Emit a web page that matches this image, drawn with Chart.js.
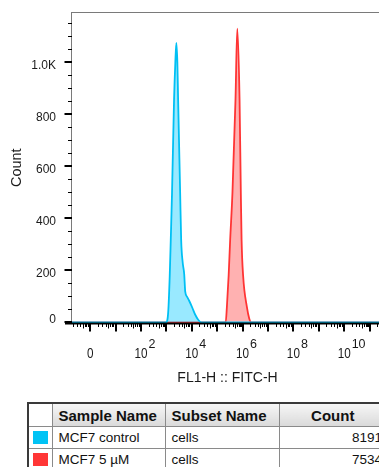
<!DOCTYPE html>
<html>
<head>
<meta charset="utf-8">
<script src="https://cdn.jsdelivr.net/npm/chart.js@4/dist/chart.umd.min.js"></script>
<style>
  html, body { margin: 0; padding: 0; background: #fff; }
  body { width: 379px; height: 467px; overflow: hidden; position: relative; font-family: "Liberation Sans", Arial, sans-serif; }
  #plotBox { position: absolute; left: 0; top: 0; width: 400px; height: 396px; }
  #stats { position: absolute; left: 27px; top: 402px; width: 359px; table-layout: fixed; border-collapse: collapse; border: 2px solid #3a3a3a; color: #111; }
  #stats th, #stats td { border: 1px solid #8a8a8a; padding: 0 6px; white-space: nowrap; overflow: hidden; line-height: 17px; }
  #stats th { height: 22px; font-size: 15px; font-weight: bold; text-align: left; background: linear-gradient(#f6f6f6, #dadada); }
  #stats th.blank { background: #fff; }
  #stats th.num { text-align: center; }
  #stats td { height: 21px; font-size: 13.5px; }
  #stats td.num { text-align: right; padding-right: 4px; }
  #stats td.sw { padding: 0 4px; }
  .swatch { display: block; width: 15px; height: 13px; }
</style>
</head>
<body>
<div id="plotBox"><canvas id="histo"></canvas></div>
<table id="stats">
  <colgroup>
    <col style="width:24px">
    <col style="width:113px">
    <col style="width:114px">
    <col style="width:108px">
  </colgroup>
  <thead>
    <tr>
      <th class="blank"></th>
      <th>Sample Name</th>
      <th>Subset Name</th>
      <th class="num">Count</th>
    </tr>
  </thead>
  <tbody id="statsBody"></tbody>
</table>

<script>
// x values are decades (log10 of FL1-H), y values are cell counts
var controlX = [-0.8, 2.99, 3.07, 3.13, 3.17, 3.22, 3.30, 3.35, 3.39, 3.43, 3.46, 3.54, 3.58, 3.64, 3.70, 3.74, 3.82, 3.90, 4.02, 4.13, 4.25, 4.37, 11.6];
var controlY = [0, 0, 40, 180, 317, 498, 857, 1000, 1075, 1000, 857, 498, 317, 230, 185, 118, 97, 82, 56, 30, 10, 0, 0];

var treatedX = [-0.8, 5.335, 5.38, 5.45, 5.51, 5.60, 5.72, 5.79, 5.88, 5.93, 5.96, 6.02, 6.17, 6.26, 6.34, 11.6];
var treatedY = [0, 0, 58, 180, 317, 498, 857, 1130, 857, 498, 317, 180, 58, 15, 0, 0];

var xTickExponents = [0, 2, 4, 6, 8, 10];
var yTickValues = [0, 200, 400, 600, 800, 1000];
var yTickLabels = ['0', '200', '400', '600', '800', '1.0K'];

var sampleNames = ['MCF7 control', 'MCF7 5 \u00b5M'];
var subsetNames = ['cells', 'cells'];
var eventCounts = [8191, 7534];
var sampleColors = ['#00c3f5', '#ff3636'];

function toPoints(xs, ys) {
    var pts = [];
    for (var i = 0; i < xs.length; i++) {
        pts.push({x: xs[i], y: ys[i]});
    }
    return pts;
}

var rows = '';
for (var i = 0; i < sampleNames.length; i++) {
    rows += '<tr><td class="sw"><span class="swatch" style="background:' + sampleColors[i] + '"></span></td>' +
        '<td>' + sampleNames[i] + '</td><td>' + subsetNames[i] + '</td><td class="num">' + eventCounts[i] + '</td></tr>';
}
document.getElementById('statsBody').innerHTML = rows;

var flowAxes = {
    id: 'flowAxes',
    afterDatasetsDraw: function(chart) {
        var ctx = chart.ctx;
        var area = chart.chartArea;
        var xs = chart.scales.x;
        var ys = chart.scales.y;
        ctx.save();

        // frame top + left
        ctx.strokeStyle = '#7a7a7a';
        ctx.lineWidth = 1;
        ctx.beginPath();
        ctx.moveTo(area.left, area.top + 0.5);
        ctx.lineTo(area.right, area.top + 0.5);
        ctx.moveTo(area.left - 0.5, area.top);
        ctx.lineTo(area.left - 0.5, area.bottom);
        ctx.stroke();

        // y ticks
        ctx.strokeStyle = '#000';
        for (var v = 0; v <= 1150; v += 50) {
            var py = Math.round(ys.getPixelForValue(v));
            var major = v % 200 == 0;
            ctx.lineWidth = major ? 2 : 1;
            ctx.beginPath();
            ctx.moveTo(area.left - (major ? 7.5 : 4), py + (major ? 0 : 0.5));
            ctx.lineTo(area.left, py + (major ? 0 : 0.5));
            ctx.stroke();
        }

        // x axis line
        ctx.lineWidth = 1.8;
        ctx.beginPath();
        ctx.moveTo(area.left - 7, area.bottom);
        ctx.lineTo(area.right, area.bottom);
        ctx.stroke();

        // x ticks (log decades)
        for (var d = -1; d <= 11; d++) {
            for (var k = 1; k <= 9; k++) {
                var e = d + Math.log10(k);
                if (e < xs.min || e > xs.max) continue;
                var px = Math.round(xs.getPixelForValue(e));
                var len = k == 1 ? 8 : (k == 5 ? 5 : 3.5);
                ctx.lineWidth = k == 1 ? 2 : 1;
                ctx.beginPath();
                ctx.moveTo(px + (k == 1 ? 0 : 0.5), area.bottom);
                ctx.lineTo(px + (k == 1 ? 0 : 0.5), area.bottom + len);
                ctx.stroke();
            }
        }

        // y labels
        ctx.fillStyle = '#1a1a1a';
        ctx.font = '12px "Liberation Sans", Arial, sans-serif';
        ctx.textAlign = 'right';
        ctx.textBaseline = 'middle';
        for (var j = 0; j < yTickValues.length; j++) {
            var ly = ys.getPixelForValue(yTickValues[j]);
            ly += yTickValues[j] == 0 ? -3 : 3.5;
            ctx.fillText(yTickLabels[j], area.left - 16, ly);
        }

        // x labels: 0, 10^2, 10^4 ...
        ctx.textBaseline = 'alphabetic';
        for (var t = 0; t < xTickExponents.length; t++) {
            var ex = xTickExponents[t];
            var lx = xs.getPixelForValue(ex);
            ctx.save();
            ctx.translate(lx, 358);
            ctx.scale(0.78, 1);
            ctx.textAlign = 'center';
            ctx.font = '15px "Liberation Sans", Arial, sans-serif';
            var base = ex == 0 ? '0' : '10';
            ctx.fillText(base, 0, 0);
            var halfW = ctx.measureText(base).width * 0.78 / 2;
            ctx.restore();
            if (ex != 0) {
                ctx.textAlign = 'left';
                ctx.font = '12.5px "Liberation Sans", Arial, sans-serif';
                ctx.fillText(String(ex), lx + halfW + 1, 348);
            }
        }
        ctx.restore();
    }
};

new Chart(document.getElementById('histo'), {
    type: 'line',
    data: {
        datasets: [
            {
                label: sampleNames[0],
                data: toPoints(controlX, controlY),
                borderColor: 'rgb(0,192,244)',
                backgroundColor: 'rgba(0,200,255,0.4)',
                borderWidth: 1.8,
                fill: 'origin',
                pointRadius: 0,
                cubicInterpolationMode: 'monotone'
            },
            {
                label: sampleNames[1],
                data: toPoints(treatedX, treatedY),
                borderColor: 'rgb(255,52,52)',
                backgroundColor: 'rgba(255,60,60,0.4)',
                borderWidth: 1.8,
                fill: 'origin',
                pointRadius: 0,
                cubicInterpolationMode: 'monotone'
            }
        ]
    },
    options: {
        responsive: true,
        maintainAspectRatio: false,
        animation: false,
        layout: { padding: { top: 12, right: 17, left: 0, bottom: 0 } },
        plugins: { legend: { display: false }, tooltip: { enabled: false } },
        scales: {
            x: {
                type: 'linear',
                min: -0.72,
                max: 11.53,
                grid: { display: false, drawTicks: false },
                border: { display: false },
                ticks: { display: false },
                title: {
                    display: true,
                    text: 'FL1-H :: FITC-H',
                    color: '#1a1a1a',
                    font: { size: 14, family: '"Liberation Sans", Arial, sans-serif' },
                    padding: { top: 0, bottom: 9.6 }
                },
                afterFit: function(scale) { scale.height = 396 - 323.5; }
            },
            y: {
                min: -4.6,
                max: 1194,
                grid: { display: false, drawTicks: false },
                border: { display: false },
                ticks: { display: false },
                title: {
                    display: true,
                    text: 'Count',
                    color: '#1a1a1a',
                    font: { size: 14.5, family: '"Liberation Sans", Arial, sans-serif' },
                    padding: { top: 8.3, bottom: 0 }
                },
                afterFit: function(scale) { scale.width = 72; }
            }
        }
    },
    plugins: [flowAxes]
});
</script>
</body>
</html>
